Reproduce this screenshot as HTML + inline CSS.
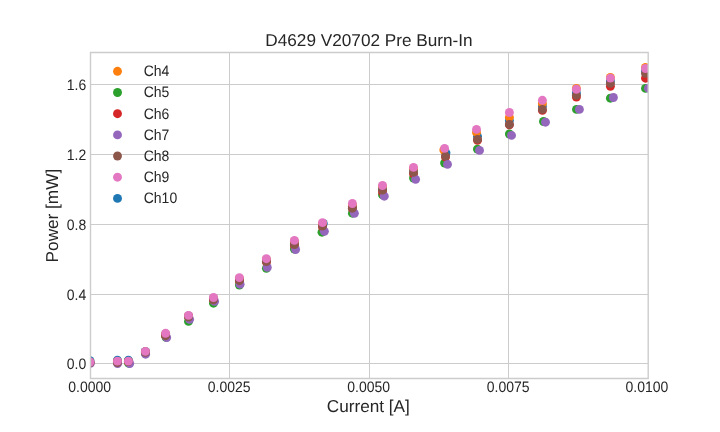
<!DOCTYPE html>
<html><head><meta charset="utf-8"><title>D4629 V20702 Pre Burn-In</title>
<style>
html,body{margin:0;padding:0;background:#fff;}
svg{display:block;will-change:transform;}
text{font-family:"Liberation Sans",Arial,sans-serif;fill:#262626;text-rendering:geometricPrecision;}
</style></head>
<body>
<svg width="720" height="432" viewBox="0 0 720 432">
<defs><clipPath id="ax"><rect x="90.0" y="52.0" width="558.0" height="326.0"/></clipPath></defs>
<rect width="720" height="432" fill="#fff"/>
<g stroke="#cccccc" stroke-width="1.1" shape-rendering="crispEdges"><line x1="229.5" y1="52.0" x2="229.5" y2="378.0"/><line x1="369.5" y1="52.0" x2="369.5" y2="378.0"/><line x1="508.5" y1="52.0" x2="508.5" y2="378.0"/><line x1="90.0" y1="363.5" x2="648.0" y2="363.5"/><line x1="90.0" y1="294.5" x2="648.0" y2="294.5"/><line x1="90.0" y1="224.5" x2="648.0" y2="224.5"/><line x1="90.0" y1="154.5" x2="648.0" y2="154.5"/><line x1="90.0" y1="84.5" x2="648.0" y2="84.5"/></g>
<g clip-path="url(#ax)">
<g fill="#1f77b4"><circle cx="90.0" cy="360.7" r="4.45"/><circle cx="117.4" cy="360.1" r="4.45"/><circle cx="128.4" cy="360.1" r="4.45"/><circle cx="145.4" cy="351.5" r="4.45"/><circle cx="165.6" cy="334.0" r="4.45"/><circle cx="188.5" cy="316.0" r="4.45"/><circle cx="213.5" cy="298.5" r="4.45"/><circle cx="239.4" cy="279.0" r="4.45"/><circle cx="266.4" cy="260.0" r="4.45"/><circle cx="294.4" cy="242.0" r="4.45"/><circle cx="323.3" cy="223.5" r="4.45"/><circle cx="352.4" cy="206.3" r="4.45"/><circle cx="382.5" cy="189.0" r="4.45"/><circle cx="413.5" cy="170.0" r="4.45"/><circle cx="446.0" cy="152.8" r="4.45"/><circle cx="477.5" cy="136.3" r="4.45"/><circle cx="509.4" cy="120.5" r="4.45"/><circle cx="542.4" cy="106.0" r="4.45"/><circle cx="576.4" cy="93.0" r="4.45"/><circle cx="610.4" cy="81.0" r="4.45"/><circle cx="645.5" cy="71.0" r="4.45"/></g>
<g fill="#ff7f0e"><circle cx="90.0" cy="362.3" r="4.45"/><circle cx="117.4" cy="361.5" r="4.45"/><circle cx="128.4" cy="361.5" r="4.45"/><circle cx="145.4" cy="351.8" r="4.45"/><circle cx="165.6" cy="334.0" r="4.45"/><circle cx="188.5" cy="316.0" r="4.45"/><circle cx="213.5" cy="298.5" r="4.45"/><circle cx="239.4" cy="278.5" r="4.45"/><circle cx="266.4" cy="259.5" r="4.45"/><circle cx="294.4" cy="241.5" r="4.45"/><circle cx="322.5" cy="223.5" r="4.45"/><circle cx="352.4" cy="204.8" r="4.45"/><circle cx="382.5" cy="186.3" r="4.45"/><circle cx="413.5" cy="168.5" r="4.45"/><circle cx="443.8" cy="150.0" r="4.45"/><circle cx="476.5" cy="132.4" r="4.45"/><circle cx="509.4" cy="117.3" r="4.45"/><circle cx="542.4" cy="103.5" r="4.45"/><circle cx="576.4" cy="88.5" r="4.45"/><circle cx="610.4" cy="77.5" r="4.45"/><circle cx="645.5" cy="67.4" r="4.45"/></g>
<g fill="#2ca02c"><circle cx="90.0" cy="362.8" r="4.45"/><circle cx="117.4" cy="362.5" r="4.45"/><circle cx="128.6" cy="363.2" r="4.45"/><circle cx="145.4" cy="353.5" r="4.45"/><circle cx="166.0" cy="337.3" r="4.45"/><circle cx="188.5" cy="321.4" r="4.45"/><circle cx="213.5" cy="303.2" r="4.45"/><circle cx="239.4" cy="285.0" r="4.45"/><circle cx="266.4" cy="268.3" r="4.45"/><circle cx="294.4" cy="249.0" r="4.45"/><circle cx="322.0" cy="232.2" r="4.45"/><circle cx="352.4" cy="213.2" r="4.45"/><circle cx="382.5" cy="194.8" r="4.45"/><circle cx="413.5" cy="178.0" r="4.45"/><circle cx="444.6" cy="163.0" r="4.45"/><circle cx="477.4" cy="149.1" r="4.45"/><circle cx="509.4" cy="134.0" r="4.45"/><circle cx="543.5" cy="121.5" r="4.45"/><circle cx="576.5" cy="109.4" r="4.45"/><circle cx="610.4" cy="98.2" r="4.45"/><circle cx="645.5" cy="88.4" r="4.45"/></g>
<g fill="#d62728"><circle cx="90.0" cy="362.5" r="4.45"/><circle cx="117.4" cy="362.0" r="4.45"/><circle cx="128.4" cy="361.8" r="4.45"/><circle cx="145.4" cy="352.5" r="4.45"/><circle cx="165.6" cy="335.5" r="4.45"/><circle cx="188.5" cy="316.5" r="4.45"/><circle cx="213.5" cy="300.0" r="4.45"/><circle cx="239.4" cy="281.0" r="4.45"/><circle cx="266.4" cy="262.0" r="4.45"/><circle cx="294.4" cy="245.5" r="4.45"/><circle cx="322.5" cy="227.0" r="4.45"/><circle cx="352.4" cy="208.6" r="4.45"/><circle cx="382.5" cy="192.0" r="4.45"/><circle cx="413.5" cy="173.8" r="4.45"/><circle cx="445.5" cy="157.0" r="4.45"/><circle cx="477.5" cy="140.3" r="4.45"/><circle cx="509.4" cy="124.8" r="4.45"/><circle cx="542.4" cy="110.4" r="4.45"/><circle cx="576.4" cy="97.1" r="4.45"/><circle cx="610.4" cy="86.3" r="4.45"/><circle cx="645.5" cy="78.2" r="4.45"/></g>
<g fill="#9467bd"><circle cx="90.3" cy="363.3" r="4.45"/><circle cx="117.6" cy="363.5" r="4.45"/><circle cx="129.7" cy="363.5" r="4.45"/><circle cx="145.6" cy="354.2" r="4.45"/><circle cx="166.7" cy="337.6" r="4.45"/><circle cx="189.6" cy="319.3" r="4.45"/><circle cx="214.6" cy="301.4" r="4.45"/><circle cx="240.1" cy="284.2" r="4.45"/><circle cx="267.3" cy="267.4" r="4.45"/><circle cx="295.6" cy="249.5" r="4.45"/><circle cx="324.4" cy="231.3" r="4.45"/><circle cx="354.4" cy="213.3" r="4.45"/><circle cx="384.3" cy="196.2" r="4.45"/><circle cx="415.6" cy="179.3" r="4.45"/><circle cx="447.5" cy="164.3" r="4.45"/><circle cx="479.5" cy="150.4" r="4.45"/><circle cx="511.5" cy="135.4" r="4.45"/><circle cx="545.5" cy="122.2" r="4.45"/><circle cx="579.4" cy="109.4" r="4.45"/><circle cx="613.4" cy="97.5" r="4.45"/><circle cx="648.4" cy="88.2" r="4.45"/></g>
<g fill="#8c564b"><circle cx="90.0" cy="362.8" r="4.45"/><circle cx="117.4" cy="362.5" r="4.45"/><circle cx="128.4" cy="361.5" r="4.45"/><circle cx="145.4" cy="352.4" r="4.45"/><circle cx="165.6" cy="335.7" r="4.45"/><circle cx="188.5" cy="317.0" r="4.45"/><circle cx="213.5" cy="299.8" r="4.45"/><circle cx="239.4" cy="280.7" r="4.45"/><circle cx="266.4" cy="261.6" r="4.45"/><circle cx="294.4" cy="244.5" r="4.45"/><circle cx="322.5" cy="226.1" r="4.45"/><circle cx="352.4" cy="208.2" r="4.45"/><circle cx="382.5" cy="190.1" r="4.45"/><circle cx="413.5" cy="172.4" r="4.45"/><circle cx="445.5" cy="156.1" r="4.45"/><circle cx="477.5" cy="139.4" r="4.45"/><circle cx="509.4" cy="124.4" r="4.45"/><circle cx="542.4" cy="109.4" r="4.45"/><circle cx="576.4" cy="95.3" r="4.45"/><circle cx="610.4" cy="83.4" r="4.45"/><circle cx="645.5" cy="73.4" r="4.45"/></g>
<g fill="#e377c2"><circle cx="90.0" cy="362.0" r="4.45"/><circle cx="117.4" cy="361.1" r="4.45"/><circle cx="128.4" cy="361.1" r="4.45"/><circle cx="145.4" cy="351.4" r="4.45"/><circle cx="165.6" cy="333.3" r="4.45"/><circle cx="188.5" cy="315.4" r="4.45"/><circle cx="213.5" cy="297.5" r="4.45"/><circle cx="239.4" cy="277.6" r="4.45"/><circle cx="266.4" cy="258.7" r="4.45"/><circle cx="294.4" cy="240.4" r="4.45"/><circle cx="322.5" cy="222.6" r="4.45"/><circle cx="352.4" cy="203.5" r="4.45"/><circle cx="382.5" cy="185.5" r="4.45"/><circle cx="413.5" cy="167.4" r="4.45"/><circle cx="444.6" cy="148.4" r="4.45"/><circle cx="476.5" cy="129.4" r="4.45"/><circle cx="509.4" cy="112.5" r="4.45"/><circle cx="542.4" cy="100.3" r="4.45"/><circle cx="576.4" cy="89.3" r="4.45"/><circle cx="610.4" cy="78.1" r="4.45"/><circle cx="645.5" cy="68.5" r="4.45"/></g>
</g>
<g stroke="#cccccc" stroke-width="1.39" stroke-linecap="square" fill="none"><path d="M90.5 52.5V378.5H648.2V52.5Z"/></g>
<g font-size="14px"><text transform="translate(89.7 391.6) scale(1 1.08)" text-anchor="middle">0.0000</text><text transform="translate(229.2 391.6) scale(1 1.08)" text-anchor="middle">0.0025</text><text transform="translate(368.7 391.6) scale(1 1.08)" text-anchor="middle">0.0050</text><text transform="translate(508.2 391.6) scale(1 1.08)" text-anchor="middle">0.0075</text><text transform="translate(646.9 391.6) scale(1 1.08)" text-anchor="middle">0.0100</text><text transform="translate(86.3 369.1) scale(1 1.08)" text-anchor="end">0.0</text><text transform="translate(86.3 300.1) scale(1 1.08)" text-anchor="end">0.4</text><text transform="translate(86.3 230.1) scale(1 1.08)" text-anchor="end">0.8</text><text transform="translate(86.3 160.1) scale(1 1.08)" text-anchor="end">1.2</text><text transform="translate(86.3 90.1) scale(1 1.08)" text-anchor="end">1.6</text></g>
<g font-size="14px"><circle cx="117.5" cy="71.3" r="4.45" fill="#ff7f0e"/><text transform="translate(143.7 76.1) scale(1 1.08)">Ch4</text><circle cx="117.5" cy="92.5" r="4.45" fill="#2ca02c"/><text transform="translate(143.7 97.3) scale(1 1.08)">Ch5</text><circle cx="117.5" cy="113.7" r="4.45" fill="#d62728"/><text transform="translate(143.7 118.5) scale(1 1.08)">Ch6</text><circle cx="117.5" cy="134.9" r="4.45" fill="#9467bd"/><text transform="translate(143.7 139.7) scale(1 1.08)">Ch7</text><circle cx="117.5" cy="156.0" r="4.45" fill="#8c564b"/><text transform="translate(143.7 160.8) scale(1 1.08)">Ch8</text><circle cx="117.5" cy="177.2" r="4.45" fill="#e377c2"/><text transform="translate(143.7 182.0) scale(1 1.08)">Ch9</text><circle cx="117.5" cy="198.4" r="4.45" fill="#1f77b4"/><text transform="translate(143.7 203.2) scale(1 1.08)">Ch10</text></g>
<text x="369" y="45.8" font-size="17.2px" text-anchor="middle">D4629 V20702 Pre Burn-In</text>
<text x="368.3" y="412.2" font-size="17.2px" text-anchor="middle">Current [A]</text>
<text transform="translate(57.8 215.6) rotate(-90)" x="0" y="0" font-size="17.2px" text-anchor="middle">Power [mW]</text>
</svg>
</body></html>
